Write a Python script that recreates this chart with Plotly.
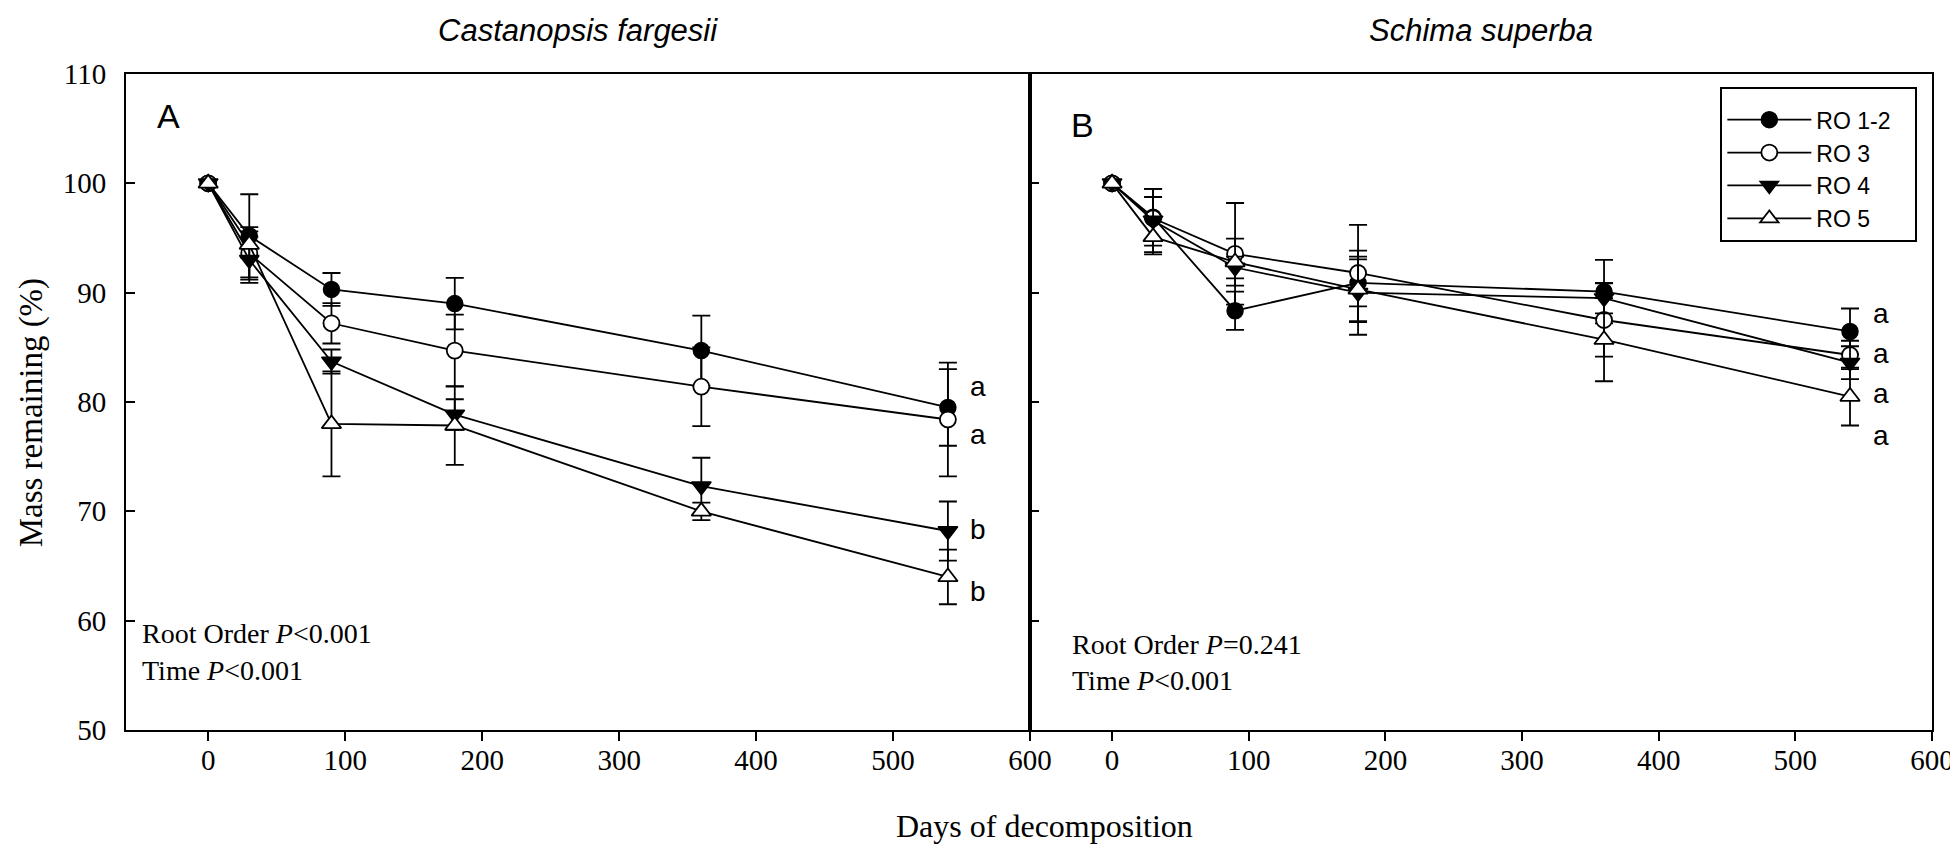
import numpy as np
import plotly.graph_objects as go

# ---------------- data ----------------
days = [0, 30, 90, 180, 360, 540]
series_names = ["RO 1-2", "RO 3", "RO 4", "RO 5"]

# Panel A: Castanopsis fargesii
A_ro12 = [100, 95.2, 90.3, 89.0, 84.7, 79.5]
A_ro12_se = [np.nan, 3.8, 1.5, 2.35, 3.2, 3.5]
A_ro3 = [100, 93.6, 87.2, 84.7, 81.4, 78.4]
A_ro3_se = [np.nan, 2.4, 1.85, 3.3, 3.6, 5.2]
A_ro4 = [100, 93.0, 83.7, 78.85, 72.3, 68.2]
A_ro4_se = [np.nan, 2.1, 1.1, 1.4, 2.6, 2.7]
A_ro5 = [100, 94.4, 78.0, 77.85, 70.0, 64.0]
A_ro5_se = [np.nan, 1.2, 4.8, 3.6, 0.8, 2.5]

# Panel B: Schima superba
B_ro12 = [100, 96.9, 88.35, 90.9, 90.1, 86.45]
B_ro12_se = [np.nan, 2.6, 1.75, 2.15, 2.9, 2.1]
B_ro3 = [100, 96.8, 93.55, 91.8, 87.5, 84.3]
B_ro3_se = [np.nan, 1.95, 4.65, 4.4, 3.35, 1.3]
B_ro4 = [100, 96.6, 92.3, 90.0, 89.5, 83.6]
B_ro4_se = [np.nan, 2.9, 1.0, 3.85, 1.4, 1.5]
B_ro5 = [100, 95.1, 92.8, 90.3, 85.7, 80.5]
B_ro5_se = [np.nan, 1.6, 2.15, 3.0, 3.8, 2.65]

A_letters = ["a", "a", "b", "b"]
A_letter_y = [81.45, 77.0, 68.3, 62.7]
B_letters = ["a", "a", "a", "a"]
B_letter_y = [88.1, 84.4, 80.8, 76.9]

panel_titles = ["Castanopsis fargesii", "Schima superba"]
panel_labels = ["A", "B"]
stats_A = ["Root Order <i>P</i><0.001", "Time <i>P</i><0.001"]
stats_B = ["Root Order <i>P</i>=0.241", "Time <i>P</i><0.001"]

x_ticks = [0, 100, 200, 300, 400, 500, 600]
y_ticks = [50, 60, 70, 80, 90, 100, 110]

# ---------------- styles ----------------
SERIF = "Liberation Serif"
SANS = "Liberation Sans"
markers = [
    dict(symbol="circle", size=16, color="black", line=dict(color="black", width=1.5)),
    dict(symbol="circle", size=16, color="white", line=dict(color="black", width=1.8)),
    dict(symbol="triangle-down", size=17, color="black", line=dict(color="black", width=1.5)),
    dict(symbol="triangle-up", size=17, color="white", line=dict(color="black", width=1.8)),
]

fig = go.Figure()

panelA = [(A_ro12, A_ro12_se), (A_ro3, A_ro3_se), (A_ro4, A_ro4_se), (A_ro5, A_ro5_se)]
panelB = [(B_ro12, B_ro12_se), (B_ro3, B_ro3_se), (B_ro4, B_ro4_se), (B_ro5, B_ro5_se)]

for p, (panel, xa, ya) in enumerate([(panelA, "x", "y"), (panelB, "x2", "y2")]):
    for i, (vals, se) in enumerate(panel):
        fig.add_trace(go.Scatter(
            x=np.array(days, dtype=float), y=np.array(vals, dtype=float),
            xaxis=xa, yaxis=ya,
            mode="lines+markers",
            name=series_names[i] + "\u00a0\u00a0\u00a0",
            legendgroup=series_names[i],
            showlegend=(p == 1),
            line=dict(color="black", width=1.8),
            marker=markers[i],
            error_y=dict(type="data", array=np.array(se, dtype=float), visible=True,
                         color="black", thickness=1.8, width=9),
        ))

# letters
for t, yv in zip(A_letters, A_letter_y):
    fig.add_annotation(x=562, y=yv, xref="x", yref="y", text=t, showarrow=False,
                       font=dict(family=SANS, size=28, color="black"),
                       xanchor="center", yanchor="middle")
for t, yv in zip(B_letters, B_letter_y):
    fig.add_annotation(x=563, y=yv, xref="x2", yref="y2", text=t, showarrow=False,
                       font=dict(family=SANS, size=28, color="black"),
                       xanchor="center", yanchor="middle")

# panel labels
fig.add_annotation(x=-29, y=106.2, xref="x", yref="y", text=panel_labels[0], showarrow=False,
                   font=dict(family=SANS, size=34, color="black"), xanchor="center", yanchor="middle")
fig.add_annotation(x=-22, y=105.3, xref="x2", yref="y2", text=panel_labels[1], showarrow=False,
                   font=dict(family=SANS, size=34, color="black"), xanchor="center", yanchor="middle")

# stats text
for t, yv in zip(stats_A, [58.85, 55.45]):
    fig.add_annotation(x=-50, y=yv, xref="x", yref="y", text=t, showarrow=False,
                       font=dict(family=SERIF, size=28, color="black"), xanchor="left", yanchor="middle")
for t, yv in zip(stats_B, [57.85, 54.5]):
    fig.add_annotation(x=-31, y=yv, xref="x2", yref="y2", text=t, showarrow=False,
                       font=dict(family=SERIF, size=28, color="black"), xanchor="left", yanchor="middle")

# panel titles
fig.add_annotation(x=0.2503, y=1.066, xref="paper", yref="paper", text="<i>%s</i>" % panel_titles[0],
                   showarrow=False, font=dict(family=SANS, size=31, color="black"),
                   xanchor="center", yanchor="middle")
fig.add_annotation(x=0.7503, y=1.066, xref="paper", yref="paper", text="<i>%s</i>" % panel_titles[1],
                   showarrow=False, font=dict(family=SANS, size=31, color="black"),
                   xanchor="center", yanchor="middle")

# axis titles
fig.add_annotation(x=0.5088, y=-0.146, xref="paper", yref="paper", text="Days of decomposition",
                   showarrow=False, font=dict(family=SERIF, size=32, color="black"),
                   xanchor="center", yanchor="middle")
fig.add_annotation(x=-0.0525, y=0.483, xref="paper", yref="paper", text="Mass remaining (%)",
                   showarrow=False, textangle=-90, font=dict(family=SERIF, size=33, color="black"),
                   xanchor="center", yanchor="middle")

split = 0.5006
xcommon = dict(range=[-60, 600], tickvals=x_ticks, ticks="outside", ticklen=9, tickwidth=2,
               tickcolor="black", showline=True, linecolor="black", linewidth=2, mirror=True,
               showgrid=False, zeroline=False, ticklabelstandoff=-6,
               tickfont=dict(family=SERIF, size=29, color="black"))
ycommon = dict(range=[50, 110], tickvals=y_ticks, ticks="inside", ticklen=9, tickwidth=2,
               tickcolor="black", showline=True, linecolor="black", linewidth=2, mirror=True,
               showgrid=False, zeroline=False,
               tickfont=dict(family=SERIF, size=29, color="black"))

fig.update_layout(
    width=1958, height=844,
    margin=dict(l=118, r=22, t=66, b=122),
    paper_bgcolor="white", plot_bgcolor="white",
    xaxis=dict(domain=[0, split], anchor="y", **xcommon),
    yaxis=dict(domain=[0, 1], anchor="x", ticklabelstandoff=12, **ycommon),
    xaxis2=dict(domain=[split, 1], anchor="y2", **xcommon),
    yaxis2=dict(domain=[0, 1], anchor="x2", showticklabels=False, **ycommon),
    legend=dict(x=0.8828, y=0.980, xanchor="left", yanchor="top",
                bordercolor="black", borderwidth=2, bgcolor="white",
                font=dict(family=SANS, size=23, color="black"),
                title=dict(text="\u00a0", font=dict(size=7)),
                itemwidth=84, tracegroupgap=0),
    showlegend=True,
)

fig.write_html("out.html")
